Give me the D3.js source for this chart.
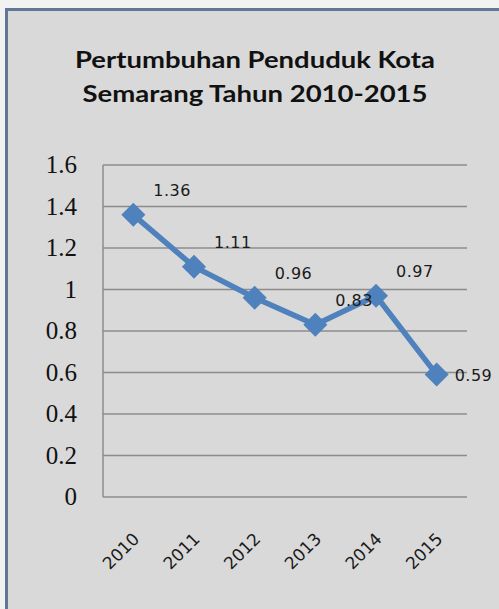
<!DOCTYPE html>
<html>
<head>
<meta charset="utf-8">
<script src="https://cdn.jsdelivr.net/npm/d3@7"></script>
<style>
  body { margin: 0; background: #f2f2f2; }
  svg { display: block; }
</style>
</head>
<body>
<script>
// datos del gráfico
var YEARS = ["2010", "2011", "2012", "2013", "2014", "2015"];
var GROWTH = [1.36, 1.11, 0.96, 0.83, 0.97, 0.59];
var Y_TICKS = [0, 0.2, 0.4, 0.6, 0.8, 1, 1.2, 1.4, 1.6];
var Y_TICK_LABELS = ["0", "0.2", "0.4", "0.6", "0.8", "1", "1.2", "1.4", "1.6"];
var TITLE_LINES = ["Pertumbuhan Penduduk Kota", "Semarang Tahun 2010-2015"];
var TITLE_WIDTHS = [360, 345];

var w = 499;
var h = 609;
var plot = { left: 103, right: 467, top: 165, bottom: 497 };

var svg = d3.select("body").append("svg").attr("width", w).attr("height", h);

// panel gris con borde
svg.append("rect").attr("x", 6.5).attr("y", 9.5).attr("width", 600).attr("height", 700)
  .attr("fill", "#d9d9d9").attr("stroke", "#5f7897").attr("stroke-width", 3);

// titulo
svg.selectAll(".title").data(TITLE_LINES).enter().append("text")
  .attr("class", "title")
  .attr("x", 255).attr("y", function (d, i) { return 68 + i * 34; })
  .attr("text-anchor", "middle")
  .attr("textLength", function (d, i) { return TITLE_WIDTHS[i]; })
  .attr("lengthAdjust", "spacingAndGlyphs")
  .style("font-family", "Lato, 'Open Sans', sans-serif")
  .style("font-weight", "bold")
  .style("font-size", "23px")
  .attr("fill", "#111")
  .text(function (d) { return d; });

var x = d3.scaleBand().domain(YEARS).range([plot.left, plot.right]).padding(0);
var y = d3.scaleLinear().domain([0, 1.6]).range([plot.bottom, plot.top]);
var cx = function (d) { return x(d) + x.bandwidth() / 2; };

// lineas de cuadricula
svg.append("g").selectAll("line").data(Y_TICKS).enter().append("line")
  .attr("x1", plot.left).attr("x2", plot.right)
  .attr("y1", function (d) { return y(d); }).attr("y2", function (d) { return y(d); })
  .attr("stroke", "#8c8c8c").attr("stroke-width", 1.5);

// eje vertical
svg.append("line").attr("x1", plot.left).attr("x2", plot.left)
  .attr("y1", plot.top).attr("y2", plot.bottom)
  .attr("stroke", "#8c8c8c").attr("stroke-width", 1.5);

// etiquetas eje y
svg.append("g").selectAll("text").data(Y_TICKS).enter().append("text")
  .attr("x", 77).attr("y", function (d) { return y(d); })
  .attr("dy", "0.33em")
  .attr("text-anchor", "end")
  .style("font-family", "'Liberation Serif', 'Times New Roman', serif")
  .style("font-size", "25px")
  .attr("fill", "#111")
  .text(function (d, i) { return Y_TICK_LABELS[i]; });

// etiquetas eje x (rotadas)
svg.append("g").selectAll("text").data(YEARS).enter().append("text")
  .attr("transform", function (d) { return "translate(" + (cx(d) + 7) + "," + 540 + ") rotate(-45)"; })
  .attr("text-anchor", "end")
  .style("font-family", "'DejaVu Sans', sans-serif")
  .style("font-size", "17px")
  .attr("fill", "#1a1a1a")
  .text(function (d) { return d; });

var points = YEARS.map(function (d, i) { return { year: d, value: GROWTH[i] }; });

var line = d3.line().x(function (d) { return cx(d.year); }).y(function (d) { return y(d.value); });

svg.append("path").datum(points).attr("d", line)
  .attr("fill", "none").attr("stroke", "#4f81bd").attr("stroke-width", 5.5)
  .attr("stroke-linejoin", "round");

var marker = d3.symbol().type(d3.symbolSquare).size(290);
svg.append("g").selectAll("path").data(points).enter().append("path")
  .attr("d", marker)
  .attr("transform", function (d) { return "translate(" + cx(d.year) + "," + y(d.value) + ") rotate(45)"; })
  .attr("fill", "#4f81bd");

// etiquetas de datos
svg.append("g").selectAll("text").data(points).enter().append("text")
  .attr("x", function (d, i) { return cx(d.year) + (i === points.length - 1 ? 18 : 20); })
  .attr("y", function (d, i) { return y(d.value) + (i === points.length - 1 ? 6 : -19); })
  .style("font-family", "'DejaVu Sans', sans-serif")
  .style("font-size", "16px")
  .style("letter-spacing", "0.5px")
  .attr("fill", "#1a1a1a")
  .text(function (d) { return d.value.toFixed(2); });
</script>
</body>
</html>
